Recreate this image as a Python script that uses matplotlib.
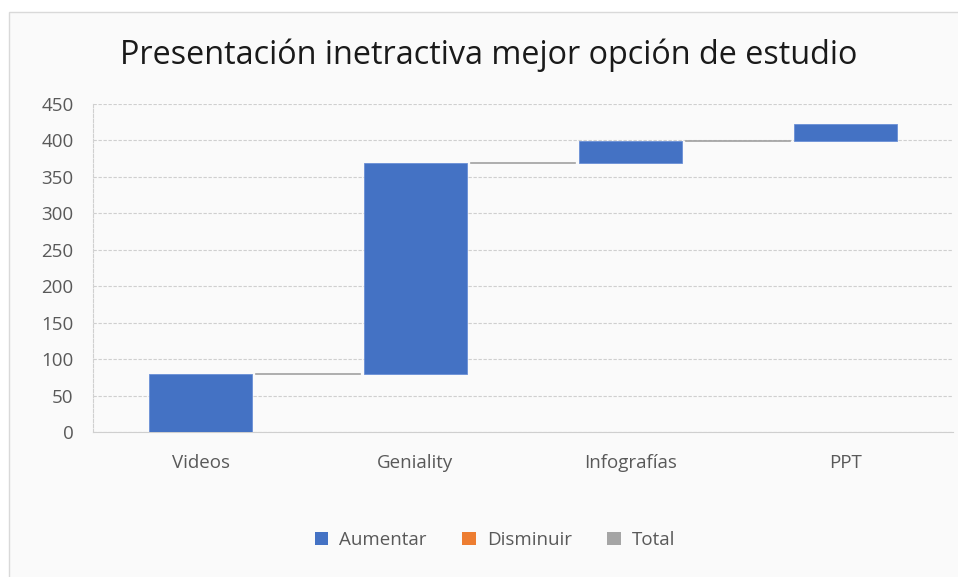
import matplotlib.pyplot as plt
from matplotlib.patches import Rectangle

# waterfall data
categories = ['Videos', 'Geniality', 'Infografías', 'PPT']
changes = [79, 290, 30, 23]
legend_labels = ['Aumentar', 'Disminuir', 'Total']
legend_colors = ['#4472C4', '#ED7D31', '#A5A5A5']
y_ticks = [0, 50, 100, 150, 200, 250, 300, 350, 400, 450]

title = 'Presentación inetractiva mejor opción de estudio'

plt.rcParams['font.family'] = ['Open Sans', 'DejaVu Sans']

fig = plt.figure(figsize=(9.58, 5.77), dpi=100)
fig.patch.set_facecolor('white')

# chart area frame (Excel style)
frame = Rectangle((9 / 958, -0.01), 1.0, 1 - 12 / 577 + 0.01,
                  transform=fig.transFigure, facecolor='#fafafa',
                  edgecolor='#d9d9d9', linewidth=1.0, zorder=-10)
fig.patches.append(frame)

ax = fig.add_axes([93 / 958, (577 - 432) / 577, 860 / 958, 328 / 577])
ax.set_facecolor('#fafafa')

bar_width = 0.48
x = list(range(len(categories)))
bottoms = []
running = 0
for c in changes:
    bottoms.append(running)
    running += c

ax.bar(x, changes, bottom=bottoms, width=bar_width, color='#4472C4',
       edgecolor='#6a8fd6', linewidth=0.6, zorder=3)

# connector lines between bars
for i in range(len(categories) - 1):
    level = bottoms[i] + changes[i]
    ax.plot([x[i] + bar_width / 2 + 0.02, x[i + 1] - bar_width / 2 - 0.02],
            [level, level], color='#a0a0a0', linewidth=1.2, zorder=4)

ax.set_xlim(-0.5, len(categories) - 0.5)
ax.set_ylim(0, 450)
ax.set_yticks(y_ticks)
ax.set_xticks(x)
ax.set_xticklabels(categories)
ax.tick_params(axis='both', length=0, labelsize=13.5, labelcolor='#595959')
ax.tick_params(axis='x', pad=16)
ax.tick_params(axis='y', pad=14)

ax.yaxis.grid(True, color='#cfcfcf', linestyle=(0, (3, 1.5)), linewidth=0.8)
ax.set_axisbelow(True)
for side in ['top', 'right']:
    ax.spines[side].set_visible(False)
ax.spines['left'].set_color('#d0d0d0')
ax.spines['left'].set_linestyle((0, (3, 1.5)))
ax.spines['left'].set_linewidth(0.8)
ax.spines['bottom'].set_color('#cfcfcf')
ax.spines['bottom'].set_linewidth(0.8)

fig.text(489 / 958, 1 - 55 / 577, title, ha='center', va='center',
         fontsize=23.3, color='#1a1a1a')

handles = [Rectangle((0, 0), 1, 1, facecolor=c, edgecolor='none')
           for c in legend_colors]
fig.legend(handles, legend_labels, loc='center', ncol=3,
           bbox_to_anchor=(495 / 958, 1 - 540 / 577), frameon=False,
           fontsize=13.5, labelcolor='#595959', handlelength=0.7,
           handleheight=0.7, handletextpad=0.6, columnspacing=1.9)

fig.savefig('out.png', dpi=100, facecolor='white')
